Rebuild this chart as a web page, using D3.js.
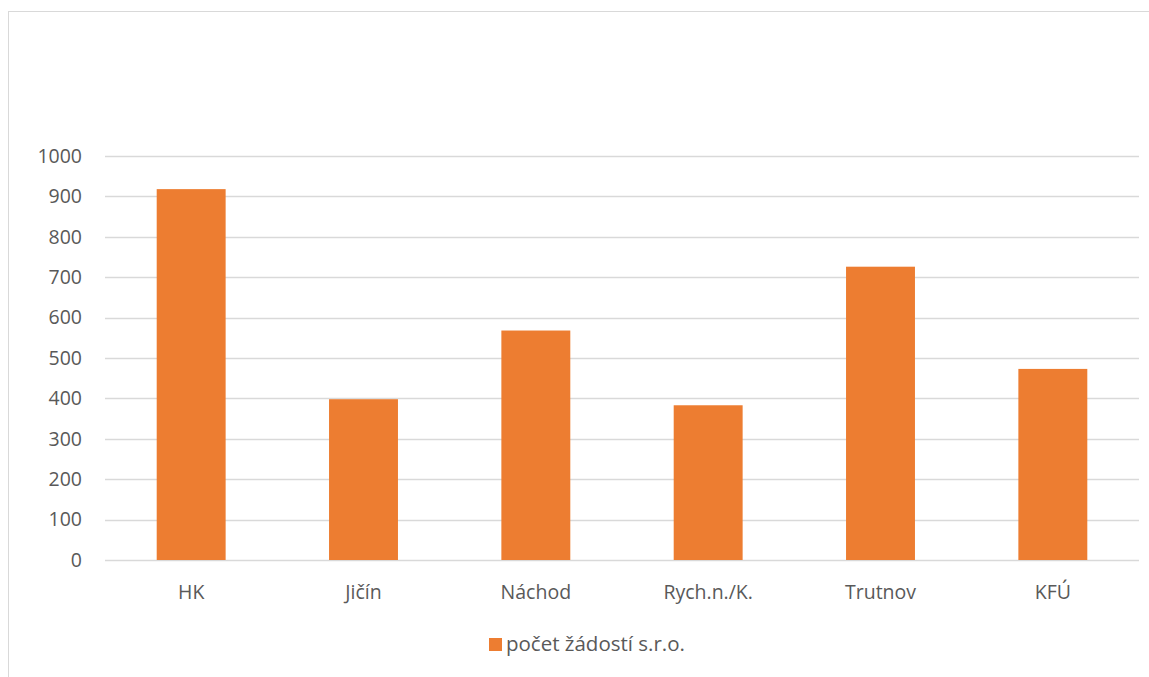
<!DOCTYPE html>
<html><head><meta charset="utf-8">
<script src="https://cdn.jsdelivr.net/npm/d3@7"></script>
<style>body{margin:0;background:#fff}svg{display:block}text{font-family:"Open Sans","Noto Sans",sans-serif}</style>
</head><body><div id="chart"></div>
<script>
const categories = ["HK","Jičín","Náchod","Rych.n./K.","Trutnov","KFÚ"];
const values = [918, 398, 568, 383, 726, 473];
const yTicks = [0,100,200,300,400,500,600,700,800,900,1000];
const seriesName = "počet žádostí s.r.o.";

const W=1149,H=677;
const svg=d3.select("#chart").append("svg").attr("width",W).attr("height",H);
svg.append("rect").attr("x",8.5).attr("y",11.5).attr("width",W).attr("height",H).attr("fill","#fff").attr("stroke","#d9d9d9");

const x=d3.scaleBand().domain(categories).range([105,1139]).paddingInner(0.6).paddingOuter(0.3);
const y=d3.scaleLinear().domain([0,1000]).range([560,156]);

const grid=svg.append("g");
grid.selectAll("line").data(yTicks).join("line")
 .attr("x1",105).attr("x2",1139).attr("y1",d=>Math.round(y(d))+0.5).attr("y2",d=>Math.round(y(d))+0.5)
 .attr("stroke","#d9d9d9").attr("stroke-width",1.3);

svg.append("g").selectAll("rect").data(categories).join("rect")
 .attr("x",d=>x(d)).attr("width",x.bandwidth())
 .attr("y",(d,i)=>y(values[i])).attr("height",(d,i)=>y(0)-y(values[i]))
 .attr("fill","#ED7D31");

const fs="19.5px";
const yAxis=svg.append("g").attr("transform","translate(82,0)").call(d3.axisLeft(y).tickValues(yTicks).tickSize(0).tickPadding(0).tickFormat(d3.format("d")));
yAxis.select(".domain").remove();
yAxis.selectAll("text").attr("fill","#595959").style("font-size",fs).style("font-family","'Open Sans','Noto Sans',sans-serif");

const xAxis=svg.append("g").attr("transform","translate(0,560)").call(d3.axisBottom(x).tickSize(0).tickPadding(25));
xAxis.select(".domain").remove();
xAxis.selectAll("text").attr("fill","#595959").style("font-size",fs).style("font-family","'Open Sans','Noto Sans',sans-serif");

const lg=svg.append("g");
lg.append("rect").attr("x",489).attr("y",638).attr("width",13).attr("height",13).attr("fill","#ED7D31");
lg.append("text").attr("x",506).attr("y",651).attr("fill","#595959").style("font-size","20.5px").text(seriesName);
</script></body></html>
